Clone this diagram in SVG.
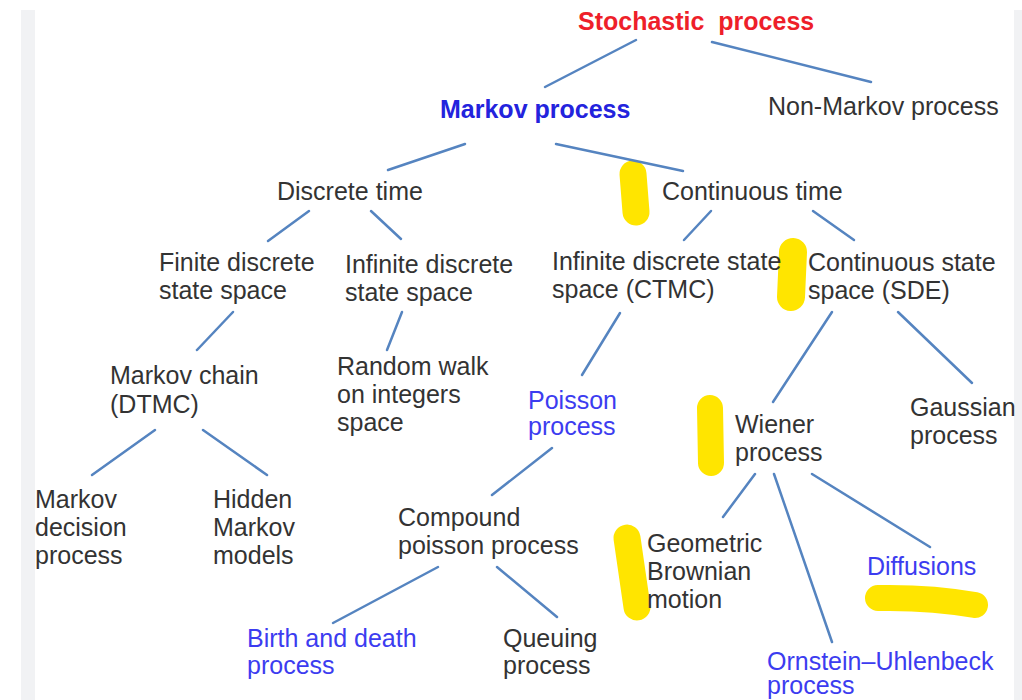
<svg xmlns="http://www.w3.org/2000/svg" width="1022" height="700" viewBox="0 0 1022 700">
<style>
text{font-family:"Liberation Sans",Arial,Helvetica,sans-serif;font-size:25px;fill:#333333}
.red{fill:#ee1f2a;font-weight:bold}
.bb{fill:#2323dd;font-weight:bold}
.blue{fill:#3c3cf0}
#connectors line{stroke:#5584c0;stroke-width:2.5;stroke-linecap:round}
.hl{stroke:#ffe500;stroke-linecap:round;fill:none}
</style>
<rect x="0" y="0" width="1022" height="700" fill="#ffffff"/>
<rect x="21" y="10" width="14" height="690" fill="#f1f2f4"/>
<rect x="1014" y="10" width="8" height="690" fill="#f1f2f4"/>
<g id="highlights">
<path class="hl" stroke-width="27" d="M633,174 L636,212"/>
<path class="hl" stroke-width="28" d="M793,252 L791,297"/>
<path class="hl" stroke-width="26" d="M710,408 L711,463"/>
<path class="hl" stroke-width="27" d="M627,538 L637,607"/>
<path class="hl" stroke-width="26" d="M878,598 Q930,597 975,605"/>
</g>
<g id="connectors">
<line x1="636" y1="40" x2="545" y2="87"/>
<line x1="712" y1="42" x2="871" y2="82"/>
<line x1="465" y1="144" x2="388" y2="170"/>
<line x1="556" y1="144" x2="683" y2="171"/>
<line x1="309" y1="211" x2="268" y2="241"/>
<line x1="371" y1="211" x2="401" y2="239"/>
<line x1="711" y1="211" x2="684" y2="240"/>
<line x1="813" y1="211" x2="854" y2="240"/>
<line x1="233" y1="312" x2="197" y2="350"/>
<line x1="402" y1="312" x2="387" y2="350"/>
<line x1="620" y1="313" x2="582" y2="375"/>
<line x1="832" y1="312" x2="773" y2="402"/>
<line x1="898" y1="312" x2="972" y2="383"/>
<line x1="155" y1="430" x2="92" y2="475"/>
<line x1="203" y1="430" x2="267" y2="475"/>
<line x1="552" y1="448" x2="492" y2="495"/>
<line x1="438" y1="567" x2="333" y2="623"/>
<line x1="497" y1="567" x2="557" y2="617"/>
<line x1="755" y1="474" x2="723" y2="517"/>
<line x1="774" y1="474" x2="832" y2="642"/>
<line x1="812" y1="474" x2="930" y2="547"/>
</g>
<g id="stochastic"><text class="red" x="578" y="30" xml:space="preserve">Stochastic  process</text></g>
<g id="markov"><text class="bb" x="440" y="118">Markov process</text></g>
<g id="nonmarkov"><text x="768" y="115">Non-Markov process</text></g>
<g id="discrete"><text x="277" y="200">Discrete time</text></g>
<g id="continuous"><text x="662" y="200">Continuous time</text></g>
<g id="finite"><text x="159" y="271">Finite discrete</text><text x="159" y="299">state space</text></g>
<g id="infinite"><text x="345" y="273">Infinite discrete</text><text x="345" y="301">state space</text></g>
<g id="ctmc"><text x="552" y="270">Infinite discrete state</text><text x="552" y="298">space (CTMC)</text></g>
<g id="sde"><text x="808" y="271">Continuous state</text><text x="808" y="299">space (SDE)</text></g>
<g id="dtmc"><text x="110" y="384">Markov chain</text><text x="110" y="413">(DTMC)</text></g>
<g id="randomwalk"><text x="337" y="375">Random walk</text><text x="337" y="403">on integers</text><text x="337" y="431">space</text></g>
<g id="poisson"><text class="blue" x="528" y="409">Poisson</text><text class="blue" x="528" y="435">process</text></g>
<g id="wiener"><text x="735" y="433">Wiener</text><text x="735" y="461">process</text></g>
<g id="gaussian"><text x="910" y="416">Gaussian</text><text x="910" y="444">process</text></g>
<g id="mdp"><text x="35" y="508">Markov</text><text x="35" y="536">decision</text><text x="35" y="564">process</text></g>
<g id="hmm"><text x="213" y="508">Hidden</text><text x="213" y="536">Markov</text><text x="213" y="564">models</text></g>
<g id="compound"><text x="398" y="526">Compound</text><text x="398" y="554">poisson process</text></g>
<g id="geometric"><text x="647" y="552">Geometric</text><text x="647" y="580">Brownian</text><text x="647" y="608">motion</text></g>
<g id="diffusions"><text class="blue" x="867" y="575">Diffusions</text></g>
<g id="birthdeath"><text class="blue" x="247" y="647">Birth and death</text><text class="blue" x="247" y="674">process</text></g>
<g id="queuing"><text x="503" y="647">Queuing</text><text x="503" y="674">process</text></g>
<g id="ou"><text class="blue" x="767" y="670">Ornstein–Uhlenbeck</text><text class="blue" x="767" y="694">process</text></g>
</svg>
